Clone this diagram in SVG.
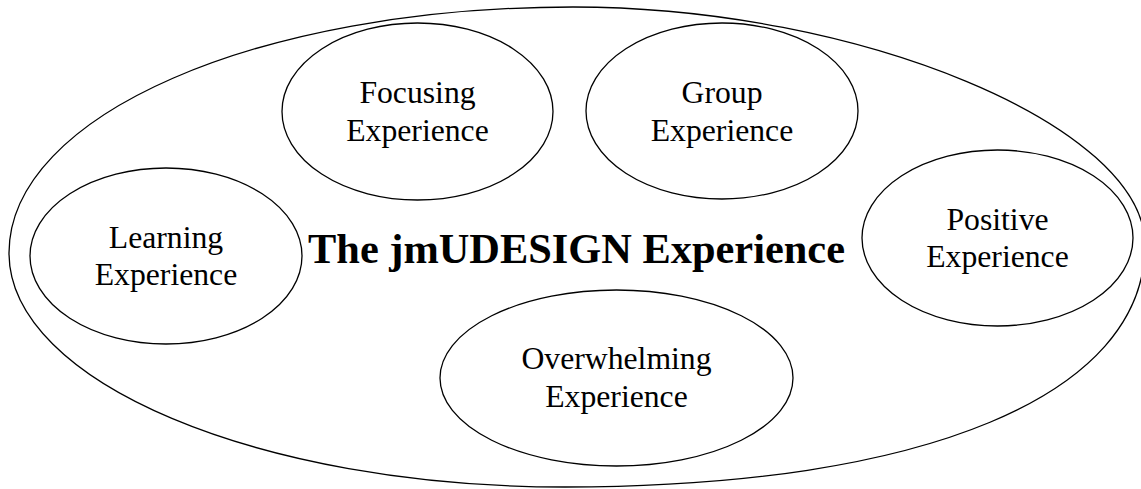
<svg xmlns="http://www.w3.org/2000/svg" width="1141" height="489" viewBox="0 0 1141 489">
  <style>
    .shape { fill: none; stroke: #000; stroke-width: 1.3; }
    .label { font-family: "Liberation Serif", "Times New Roman", serif; font-size: 31.7px; fill: #000; text-anchor: middle; }
    .title { font-family: "Liberation Serif", "Times New Roman", serif; font-size: 42.4px; font-weight: bold; fill: #000; text-anchor: middle; }
  </style>
  <rect width="1141" height="489" fill="#fff"/>

  <!-- enclosing experience boundary -->
  <g id="experience">
    <path class="shape" d="M 573,7 C 859,7 1145,126 1145,245 C 1145,395 925,487 565,487 C 258,487 9,382 9,253 C 9,115 258,7 573,7 Z"/>
    <text class="title" x="576.5" y="263">The jmUDESIGN Experience</text>
  </g>

  <g id="learning">
    <ellipse class="shape" cx="166" cy="256" rx="136" ry="88"/>
    <text class="label" x="166" y="248">Learning</text>
    <text class="label" x="166" y="285">Experience</text>
  </g>

  <g id="focusing">
    <ellipse class="shape" cx="417.5" cy="111.5" rx="135.5" ry="88.5"/>
    <text class="label" x="417.5" y="103">Focusing</text>
    <text class="label" x="417.5" y="141">Experience</text>
  </g>

  <g id="group">
    <ellipse class="shape" cx="722" cy="111" rx="136" ry="88"/>
    <text class="label" x="722" y="102.5">Group</text>
    <text class="label" x="722" y="140.5">Experience</text>
  </g>

  <g id="positive">
    <ellipse class="shape" cx="997.5" cy="238" rx="135.5" ry="88"/>
    <text class="label" x="997.5" y="230">Positive</text>
    <text class="label" x="997.5" y="267">Experience</text>
  </g>

  <g id="overwhelming">
    <ellipse class="shape" cx="616.5" cy="378" rx="176.5" ry="88"/>
    <text class="label" x="616.5" y="369">Overwhelming</text>
    <text class="label" x="616.5" y="407">Experience</text>
  </g>

  <g id="connectors"/>
</svg>
